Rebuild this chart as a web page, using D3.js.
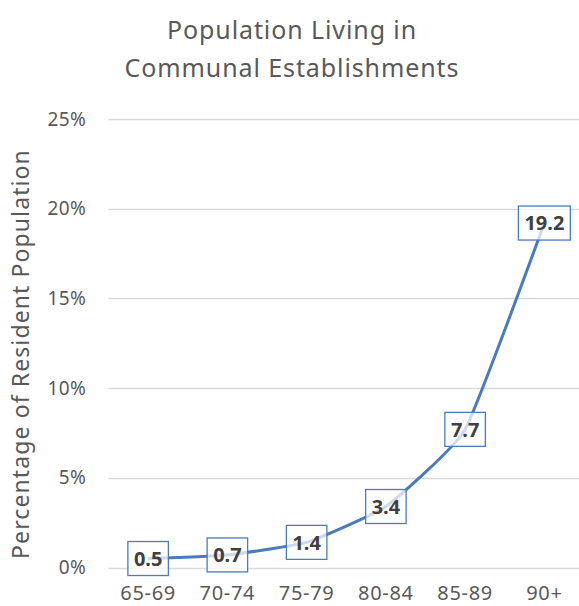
<!DOCTYPE html>
<html>
<head>
<meta charset="utf-8">
<script src="https://cdn.jsdelivr.net/npm/d3@7"></script>
<style>
  body { margin: 0; background: #fff; }
  text { font-family: "Noto Sans", Lato, sans-serif; }
</style>
</head>
<body>
<div id="chart"></div>
<script>
const ageGroups = ['65-69', '70-74', '75-79', '80-84', '85-89', '90+'];
const communalPct = [0.5, 0.7, 1.4, 3.4, 7.7, 19.2];
const yTicks = [0, 5, 10, 15, 20, 25];
const titleLines = ['Population Living in', 'Communal Establishments'];
const yTitle = 'Percentage of Resident Population';

const width = 579, height = 606;
const margin = { top: 119, right: -5, bottom: 38.5, left: 108.5 };

const svg = d3.select('#chart')
    .append('svg')
    .attr('width', width)
    .attr('height', height);

const x = d3.scaleBand()
    .domain(ageGroups)
    .range([margin.left, width - margin.right]);

const y = d3.scaleLinear()
    .domain([0, 25])
    .range([height - margin.bottom, margin.top]);

const grey = '#595959';
const blue = '#4a7bc0';

// title
svg.append('text')
    .attr('text-anchor', 'middle')
    .attr('fill', grey)
    .style('font-size', '25px')
    .style('letter-spacing', '0.9px')
    .selectAll('tspan')
    .data(titleLines)
    .enter()
    .append('tspan')
    .attr('x', 292)
    .attr('y', (d, i) => 39 + i * 38)
    .text(d => d);

// gridlines
svg.append('g')
    .selectAll('line')
    .data(yTicks)
    .enter()
    .append('line')
    .attr('x1', margin.left)
    .attr('x2', width - margin.right)
    .attr('y1', d => Math.round(y(d)) + 0.5)
    .attr('y2', d => Math.round(y(d)) + 0.5)
    .attr('stroke', '#d9d9d9')
    .attr('stroke-width', 1.5);

// y axis labels
svg.append('g')
    .selectAll('text')
    .data(yTicks)
    .enter()
    .append('text')
    .attr('x', 86)
    .attr('y', d => y(d))
    .attr('dy', '0.35em')
    .attr('text-anchor', 'end')
    .attr('fill', grey)
    .style('font-size', '19px')
    .style('letter-spacing', '0.3px')
    .text(d => d + '%');

// x axis labels
svg.append('g')
    .selectAll('text')
    .data(ageGroups)
    .enter()
    .append('text')
    .attr('x', d => x(d) + x.bandwidth() / 2)
    .attr('y', 600)
    .attr('text-anchor', 'middle')
    .attr('fill', grey)
    .style('font-size', '20px')
    .style('letter-spacing', '0.7px')
    .text(d => d);

// y axis title
svg.append('text')
    .attr('transform', 'translate(29, 354) rotate(-90)')
    .attr('text-anchor', 'middle')
    .attr('fill', grey)
    .style('font-size', '23px')
    .style('letter-spacing', '1.1px')
    .text(yTitle);

// line
const line = d3.line()
    .x((d, i) => x(ageGroups[i]) + x.bandwidth() / 2)
    .y(d => y(d))
    .curve(d3.curveCardinal.tension(0.6));

svg.append('path')
    .datum(communalPct)
    .attr('d', line)
    .attr('fill', 'none')
    .attr('stroke', blue)
    .attr('stroke-width', 3);

// data labels
const labels = svg.append('g')
    .selectAll('g')
    .data(communalPct)
    .enter()
    .append('g')
    .attr('transform', (d, i) => `translate(${x(ageGroups[i]) + x.bandwidth() / 2},${y(d)})`);

labels.append('rect')
    .attr('fill', 'white')
    .attr('fill-opacity', 0.72)
    .attr('stroke', blue)
    .attr('stroke-width', 1.3);

labels.append('text')
    .attr('text-anchor', 'middle')
    .attr('dy', '0.36em')
    .attr('fill', '#404040')
    .style('font-size', '20px')
    .style('font-weight', 'bold')
    .text(d => d.toFixed(1));

labels.each(function () {
    const g = d3.select(this);
    const w = g.select('text').node().getComputedTextLength() + 12;
    g.select('rect')
        .attr('x', -w / 2)
        .attr('y', -17)
        .attr('width', w)
        .attr('height', 34);
});
</script>
</body>
</html>
